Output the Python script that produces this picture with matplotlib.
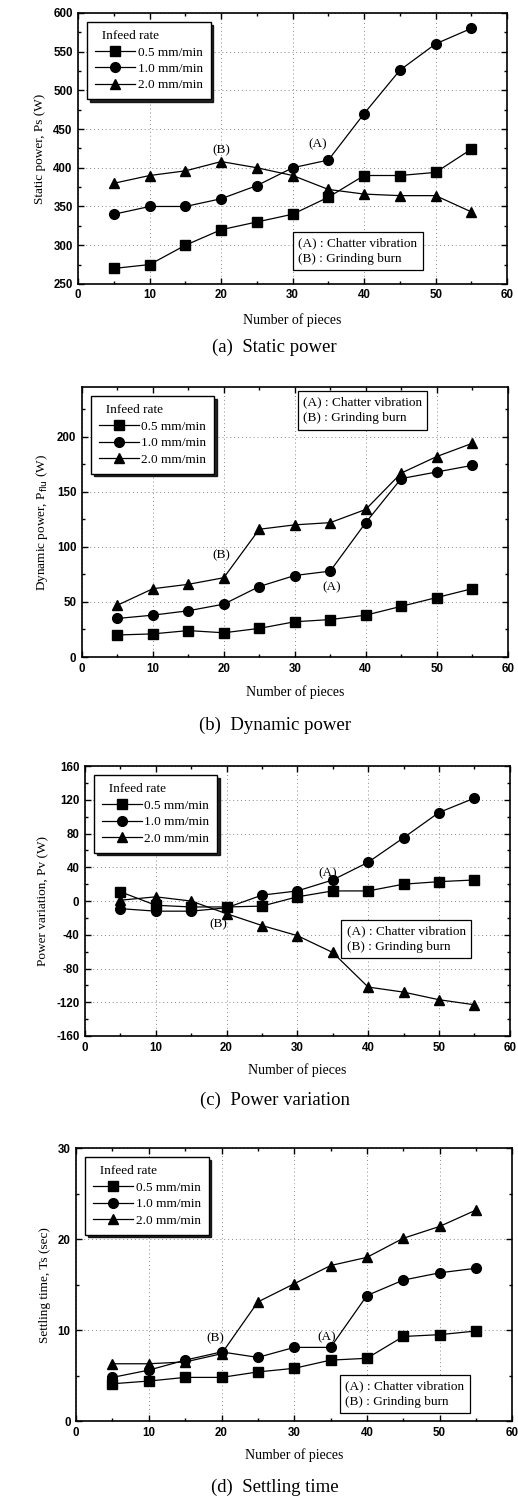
import matplotlib
matplotlib.use('Agg')
import matplotlib.pyplot as plt
from matplotlib.ticker import MultipleLocator

plt.rcParams['axes.unicode_minus'] = False

pieces = [5, 10, 15, 20, 25, 30, 35, 40, 45, 50, 55]
rates = ['0.5 mm/min', '1.0 mm/min', '2.0 mm/min']
markers = ['s', 'o', '^']

# (a) static power
static_05 = [270, 275, 300, 320, 330, 340, 362, 390, 390, 394, 424]
static_10 = [340, 350, 350, 360, 377, 400, 410, 470, 526, 560, 580]
static_20 = [380, 390, 396, 408, 400, 390, 372, 366, 364, 364, 343]

# (b) dynamic power
dyn_05 = [20, 21, 24, 22, 26, 32, 34, 38, 46, 54, 62]
dyn_10 = [35, 38, 42, 48, 64, 74, 78, 122, 162, 168, 174]
dyn_20 = [47, 62, 66, 72, 116, 120, 122, 134, 167, 182, 194]

# (c) power variation
var_05 = [11, -5, -7, -7, -6, 5, 12, 12, 20, 23, 25]
var_10 = [-9, -12, -12, -8, 7, 12, 25, 46, 75, 105, 122]
var_20 = [1, 5, 0, -15, -29, -41, -61, -102, -108, -117, -123]

# (d) settling time
set_05 = [4.1, 4.4, 4.8, 4.8, 5.4, 5.8, 6.7, 6.9, 9.3, 9.5, 9.9]
set_10 = [4.8, 5.6, 6.7, 7.6, 7.0, 8.1, 8.1, 13.8, 15.5, 16.3, 16.8]
set_20 = [6.3, 6.3, 6.5, 7.4, 13.1, 15.1, 17.1, 18.0, 20.1, 21.4, 23.2]

serif = ['Liberation Serif', 'DejaVu Serif']
sans = ['Liberation Sans', 'DejaVu Sans']

fig = plt.figure(figsize=(5.18, 14.99), dpi=100)

panels = [
    dict(rect=[0.151, 0.8106, 0.828, 0.1808], series=[static_05, static_10, static_20],
         ylim=(250, 600), major=50, minor=25, ylabel='Static power, Ps (W)',
         caption='(a)  Static power', note_xy=(0.513, 0.07), note_va='bottom',
         marks=[('(B)', 20, 423), ('(A)', 33.5, 430)], label_y=320, cap_y=347),
    dict(rect=[0.158, 0.5617, 0.822, 0.180], series=[dyn_05, dyn_10, dyn_20],
         ylim=(0, 245), major=50, minor=25, ylabel='Dynamic power, P$_{\\rm flu}$ (W)',
         caption='(b)  Dynamic power', note_xy=(0.519, 0.965), note_va='top',
         marks=[('(B)', 19.7, 92), ('(A)', 35.2, 63)], label_y=692, cap_y=725),
    dict(rect=[0.164, 0.3089, 0.820, 0.180], series=[var_05, var_10, var_20],
         ylim=(-160, 160), major=40, minor=20, ylabel='Power variation, Pv (W)',
         caption='(c)  Power variation', note_xy=(0.616, 0.307), note_va='bottom',
         marks=[('(A)', 34.3, 33), ('(B)', 18.8, -27)], label_y=1070, cap_y=1100),
    dict(rect=[0.147, 0.052, 0.842, 0.182], series=[set_05, set_10, set_20],
         ylim=(0, 30), major=10, minor=5, ylabel='Settling time, Ts (sec)',
         caption='(d)  Settling time', note_xy=(0.617, 0.048), note_va='bottom',
         marks=[('(B)', 19.1, 9.1), ('(A)', 34.4, 9.2)], label_y=1455, cap_y=1487),
]

H = 1499.0
for p in panels:
    ax = fig.add_axes(p['rect'])
    for vals, m, lab in zip(p['series'], markers, rates):
        ax.plot(pieces, vals, color='black', lw=0.9, marker=m, ms=7 if m != '^' else 7.5,
                mfc='black', mec='black', label=lab)
    ax.set_xlim(0, 60)
    ax.set_ylim(*p['ylim'])
    ax.xaxis.set_major_locator(MultipleLocator(10))
    ax.xaxis.set_minor_locator(MultipleLocator(5))
    ax.yaxis.set_major_locator(MultipleLocator(p['major']))
    ax.yaxis.set_minor_locator(MultipleLocator(p['minor']))
    ax.tick_params(which='both', direction='in', top=True, right=True, width=1.0)
    ax.tick_params(which='major', length=4, labelsize=8.3, pad=4)
    ax.tick_params(which='minor', length=2.5)
    for lab in ax.get_xticklabels() + ax.get_yticklabels():
        lab.set_family(sans)
        lab.set_fontweight('bold')
    for s in ax.spines.values():
        s.set_linewidth(1.2)
    ax.grid(True, which='major', color='#888888', ls=(0, (1, 3)), lw=0.7)
    ax.set_ylabel(p['ylabel'], family=serif, fontsize=9.5, labelpad=5)

    leg = ax.legend(loc='upper left', title='  Infeed rate', frameon=True, fancybox=False,
                    shadow={'color': 'black', 'alpha': 0.85}, edgecolor='black',
                    prop={'family': serif, 'size': 9.5},
                    title_fontproperties={'family': serif, 'size': 9.5},
                    alignment='left', handlelength=3.0, handletextpad=0.2, borderaxespad=0.7,
                    labelspacing=0.32, borderpad=0.6, markerscale=1.0)
    leg.get_frame().set_linewidth(1.0)

    ax.text(p['note_xy'][0], p['note_xy'][1], '(A) : Chatter vibration\n(B) : Grinding burn',
            transform=ax.transAxes, ha='left', va=p['note_va'], family=serif, fontsize=9.5,
            linespacing=1.4,
            bbox=dict(boxstyle='square,pad=0.4', fc='white', ec='black', lw=0.9))

    for t, x, y in p['marks']:
        ax.text(x, y, t, ha='center', va='center', family=serif, fontsize=9.5)

    fig.text(p['rect'][0] + 0.5 * p['rect'][2], 1 - p['label_y'] / H, 'Number of pieces',
             ha='center', va='center', family=serif, fontsize=10)
    fig.text(0.53, 1 - p['cap_y'] / H, p['caption'], ha='center', va='center',
             family=serif, fontsize=13.5)

fig.savefig('out.png', dpi=100)
